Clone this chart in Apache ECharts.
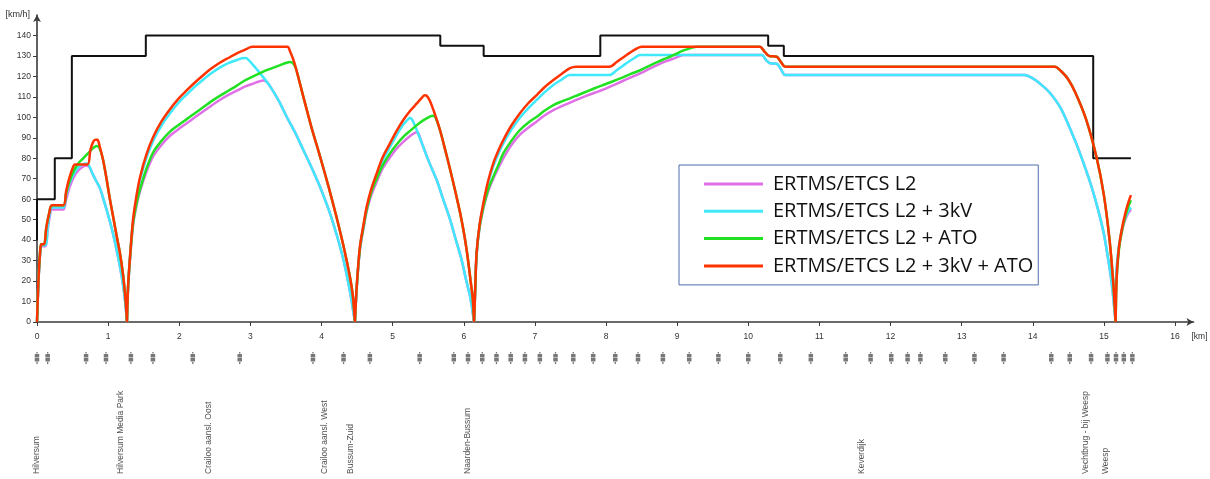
<!DOCTYPE html>
<html>
<head>
<meta charset="utf-8">
<script src="https://cdn.jsdelivr.net/npm/echarts@6/dist/echarts.min.js"></script>
<style>
  html, body { margin: 0; padding: 0; background: #fff; }
  #chart { width: 1210px; height: 479px; }
</style>
</head>
<body>
<div id="chart"></div>
<script>
// ---- axis ticks ----
const kmTicks = [0, 1, 2, 3, 4, 5, 6, 7, 8, 9, 10, 11, 12, 13, 14, 15, 16];
const speedTicks = [0, 10, 20, 30, 40, 50, 60, 70, 80, 90, 100, 110, 120, 130, 140];

// ---- legend entries ----
const seriesNames = ['ERTMS/ETCS L2', 'ERTMS/ETCS L2 + 3kV', 'ERTMS/ETCS L2 + ATO', 'ERTMS/ETCS L2 + 3kV + ATO'];
const seriesColors = ['#e070e6', '#3fe9fb', '#22e022', '#ff3300'];

// ---- permitted line speed [km, km/h] ----
const speedLimit = [
  [0, 40], [0, 60], [0.25, 60], [0.25, 80], [0.49, 80], [0.49, 130], [1.53, 130], [1.53, 140],
  [5.67, 140], [5.67, 135], [6.28, 135], [6.28, 130], [7.92, 130], [7.92, 140], [10.28, 140],
  [10.28, 135], [10.5, 135], [10.5, 130], [14.85, 130], [14.85, 80], [15.38, 80]
];

// ---- speed profiles, one list per run between stops [km, km/h] ----
const speedL2 = [
  [[0, 0], [0.02, 19], [0.045, 33.5], [0.065, 37], [0.12, 37], [0.15, 45], [0.18, 51.5], [0.21, 55], [0.37, 55], [0.41, 60], [0.46, 66], [0.52, 71], [0.58, 74], [0.64, 75.8], [0.70, 76.5], [0.74, 75.5], [0.78, 72.5], [0.83, 69], [0.886, 65.3], [0.93, 60.5], [0.98, 54.7], [1.03, 48.5], [1.073, 42.5], [1.12, 35], [1.167, 27], [1.21, 18], [1.237, 10.7], [1.265, 0]],
  [[1.265, 0], [1.28, 16], [1.31, 31.5], [1.35, 47], [1.40, 57], [1.45, 64], [1.54, 73.5], [1.635, 81], [1.75, 86.5], [1.87, 91], [2.0, 94.5], [2.10, 97], [2.22, 100], [2.34, 103], [2.45, 105.7], [2.57, 108.5], [2.69, 111], [2.81, 113], [2.92, 115], [3.04, 116.5], [3.12, 117.5], [3.18, 118], [3.23, 117.3], [3.28, 115], [3.40, 108], [3.51, 100.3], [3.63, 92.5], [3.745, 84], [3.86, 75.5], [3.98, 66], [4.10, 55], [4.21, 43], [4.29, 33], [4.35, 23.8], [4.41, 13], [4.45, 4.4], [4.47, 0]],
  [[4.47, 0], [4.495, 16.5], [4.54, 35], [4.59, 45.5], [4.635, 54], [4.70, 62], [4.776, 68.5], [4.86, 75], [4.963, 80.5], [5.05, 84.5], [5.15, 88], [5.25, 91], [5.32, 92.5], [5.35, 92.7], [5.38, 90.5], [5.43, 85.6], [5.52, 77.5], [5.62, 69.4], [5.71, 60], [5.81, 49.8], [5.89, 40], [5.97, 30.3], [6.03, 21], [6.09, 12.4], [6.12, 6], [6.145, 0]],
  [[6.145, 0], [6.16, 14.5], [6.18, 32.5], [6.22, 45.5], [6.275, 55.5], [6.34, 63.5], [6.415, 70], [6.49, 75.5], [6.556, 80], [6.67, 86.5], [6.79, 91.5], [6.91, 95], [7.026, 98], [7.14, 101], [7.26, 103.5], [7.38, 105.5], [7.494, 107.2], [7.60, 108.8], [7.72, 110.5], [7.84, 112], [7.96, 113.5], [8.09, 115.5], [8.22, 117.5], [8.35, 119.5], [8.48, 121.5], [8.60, 123.5], [8.72, 125.5], [8.84, 127.3], [8.96, 128.8], [9.09, 130.4], [10.19, 130.4], [10.25, 128], [10.31, 126.4], [10.40, 126.2], [10.46, 123.5], [10.52, 120.7], [13.89, 120.7], [14.0, 119], [14.1, 116.5], [14.24, 112], [14.40, 104], [14.59, 89], [14.70, 79], [14.80, 69], [14.87, 61], [14.94, 52], [15.0, 43], [15.05, 33], [15.09, 24], [15.12, 16], [15.165, 0]],
  [[15.165, 0], [15.17, 19], [15.20, 33], [15.24, 42], [15.29, 49], [15.34, 53], [15.38, 55]]
];

const speedL2_3kV = [
  [[0, 0], [0.02, 19], [0.045, 34], [0.065, 37.5], [0.12, 37.5], [0.15, 46], [0.18, 53], [0.205, 56], [0.37, 56], [0.41, 62], [0.46, 68], [0.52, 72.5], [0.58, 75.5], [0.64, 77], [0.70, 77.5], [0.73, 76.5], [0.78, 72.5], [0.83, 69], [0.886, 65.3], [0.93, 60.5], [0.98, 54.7], [1.03, 48.5], [1.073, 42.5], [1.12, 35], [1.167, 27], [1.21, 18], [1.237, 10.7], [1.265, 0]],
  [[1.265, 0], [1.28, 16.5], [1.31, 32.5], [1.35, 49], [1.40, 60.5], [1.45, 69.5], [1.54, 80.3], [1.635, 88.7], [1.75, 96], [1.87, 102], [2.0, 107.5], [2.10, 111], [2.22, 115], [2.34, 118.5], [2.45, 121.5], [2.57, 124.3], [2.69, 126.5], [2.81, 128], [2.88, 128.9], [2.94, 129], [2.98, 127.8], [3.04, 125.5], [3.16, 120.5], [3.28, 115], [3.40, 108], [3.51, 100.3], [3.63, 92.5], [3.745, 84], [3.86, 75.5], [3.98, 66], [4.10, 55], [4.21, 43], [4.29, 33], [4.35, 23.8], [4.41, 13], [4.45, 4.4], [4.47, 0]],
  [[4.47, 0], [4.495, 16.8], [4.54, 36], [4.59, 46.5], [4.635, 55], [4.70, 64], [4.776, 71], [4.86, 78.8], [4.963, 85.5], [5.05, 91], [5.15, 96.5], [5.21, 98.8], [5.245, 99.8], [5.27, 99], [5.29, 97.8], [5.36, 92], [5.43, 85.6], [5.52, 77.5], [5.62, 69.4], [5.71, 60], [5.81, 49.8], [5.89, 40], [5.97, 30.3], [6.03, 21], [6.09, 12.4], [6.12, 6], [6.145, 0]],
  [[6.145, 0], [6.16, 14.8], [6.18, 33], [6.22, 46.5], [6.275, 57], [6.34, 67.5], [6.415, 76], [6.49, 82.5], [6.556, 87.3], [6.67, 94], [6.79, 99.8], [6.91, 104.5], [7.026, 108.5], [7.14, 112.3], [7.26, 115.8], [7.38, 118.5], [7.45, 120.2], [7.49, 120.7], [8.05, 120.7], [8.15, 123], [8.27, 126], [8.40, 129], [8.48, 130.4], [10.19, 130.4], [10.25, 128], [10.31, 126.4], [10.40, 126.2], [10.46, 123.5], [10.52, 120.7], [13.89, 120.7], [14.0, 119], [14.1, 116.5], [14.24, 112], [14.40, 104], [14.59, 89], [14.70, 79], [14.80, 69], [14.87, 61], [14.94, 52], [15.0, 43], [15.05, 33], [15.09, 24], [15.12, 16], [15.165, 0]],
  [[15.165, 0], [15.17, 20], [15.20, 34], [15.24, 43], [15.29, 50], [15.34, 54], [15.38, 56]]
];

const speedL2_ATO = [
  [[0, 0], [0.02, 20], [0.045, 35], [0.06, 38], [0.10, 38], [0.13, 46], [0.17, 53], [0.21, 57], [0.37, 57], [0.41, 63], [0.46, 69], [0.52, 74], [0.58, 77.5], [0.65, 80], [0.72, 82.5], [0.79, 85], [0.84, 86], [0.87, 85.5], [0.90, 83], [0.93, 79], [0.98, 69.5], [1.02, 61], [1.07, 51.5], [1.12, 42], [1.167, 33.5], [1.21, 23], [1.237, 14], [1.255, 6], [1.265, 0]],
  [[1.265, 0], [1.28, 16.5], [1.31, 32.5], [1.35, 48], [1.40, 58], [1.45, 65], [1.54, 75], [1.635, 83], [1.75, 88.5], [1.87, 93], [2.0, 96.5], [2.10, 99], [2.22, 102], [2.34, 105], [2.45, 107.8], [2.57, 110.5], [2.69, 113], [2.81, 115.5], [2.92, 118], [3.04, 120], [3.16, 122], [3.28, 123.7], [3.40, 125.3], [3.51, 126.7], [3.56, 127], [3.60, 126.4], [3.64, 123.9], [3.745, 110], [3.86, 95], [3.98, 80.8], [4.10, 66], [4.21, 51.4], [4.31, 37], [4.40, 22], [4.44, 13], [4.47, 0]],
  [[4.47, 0], [4.495, 17], [4.54, 36], [4.59, 46.5], [4.635, 55], [4.70, 63.5], [4.776, 70], [4.86, 76.5], [4.963, 82.4], [5.05, 86.5], [5.15, 90.5], [5.25, 93.5], [5.34, 96.2], [5.43, 98.5], [5.53, 100.5], [5.57, 100.8], [5.60, 100], [5.63, 97.5], [5.666, 93.8], [5.74, 84], [5.81, 74.3], [5.88, 64], [5.95, 53.1], [6.01, 42], [6.06, 30.3], [6.10, 19], [6.125, 12], [6.145, 0]],
  [[6.145, 0], [6.16, 15], [6.18, 33], [6.22, 46], [6.275, 56], [6.34, 64.5], [6.415, 71], [6.49, 77], [6.556, 82.4], [6.67, 88.5], [6.79, 93.8], [6.91, 97.5], [7.026, 100.3], [7.14, 103.3], [7.26, 106], [7.38, 107.8], [7.494, 109.3], [7.60, 110.8], [7.72, 112.5], [7.84, 114.2], [7.96, 115.8], [8.09, 117.5], [8.22, 119.3], [8.35, 121.2], [8.48, 123], [8.60, 125], [8.72, 127], [8.82, 128.5], [8.90, 129.6], [9.00, 131.3], [9.10, 132.8], [9.18, 133.7], [9.275, 134.5], [10.165, 134.5], [10.22, 132.5], [10.29, 130], [10.40, 129.6], [10.46, 127], [10.52, 124.7], [14.31, 124.7], [14.40, 122.5], [14.5, 118.5], [14.6, 112], [14.75, 99], [14.9, 80], [15.0, 62], [15.08, 40], [15.13, 20], [15.165, 0]],
  [[15.165, 0], [15.18, 21], [15.21, 35], [15.25, 44], [15.30, 51.5], [15.34, 56], [15.38, 59.5]]
];

const speedL2_3kV_ATO = [
  [[0, 0], [0.02, 20], [0.045, 35], [0.06, 38], [0.10, 38], [0.13, 46], [0.17, 53], [0.21, 57], [0.37, 57], [0.41, 64], [0.46, 71], [0.51, 76], [0.53, 77], [0.71, 77], [0.75, 84], [0.79, 88], [0.82, 89], [0.85, 89], [0.88, 86], [0.93, 79], [0.98, 69.5], [1.02, 61], [1.07, 51.5], [1.12, 42], [1.167, 33.5], [1.21, 23], [1.237, 14], [1.255, 6], [1.265, 0]],
  [[1.265, 0], [1.28, 17], [1.31, 33], [1.35, 50], [1.40, 62], [1.45, 71], [1.54, 82], [1.635, 90.5], [1.75, 98], [1.87, 104], [2.0, 109.5], [2.10, 113], [2.22, 117], [2.34, 120.7], [2.45, 123.8], [2.57, 126.7], [2.69, 129], [2.81, 131.3], [2.92, 133], [3.0, 134.3], [3.03, 134.5], [3.52, 134.5], [3.56, 132], [3.62, 126.5], [3.745, 110], [3.86, 95], [3.98, 80.8], [4.10, 66], [4.21, 51.4], [4.31, 37], [4.40, 22], [4.44, 13], [4.47, 0]],
  [[4.47, 0], [4.495, 17.3], [4.54, 36.8], [4.59, 47.5], [4.635, 56.3], [4.70, 65], [4.776, 72.6], [4.86, 80.5], [4.963, 87.3], [5.05, 93], [5.15, 98.7], [5.25, 103.3], [5.34, 106.8], [5.41, 109.5], [5.45, 110.8], [5.48, 110.5], [5.525, 108], [5.60, 101], [5.666, 93.8], [5.74, 84], [5.81, 74.3], [5.88, 64], [5.95, 53.1], [6.01, 42], [6.06, 30.3], [6.10, 19], [6.125, 12], [6.145, 0]],
  [[6.145, 0], [6.16, 15], [6.18, 33.5], [6.22, 47], [6.275, 58], [6.34, 68.5], [6.415, 77.5], [6.49, 84], [6.556, 88.9], [6.67, 96], [6.79, 102], [6.91, 107], [7.026, 110.9], [7.14, 114.8], [7.26, 118.2], [7.38, 121.3], [7.494, 124], [7.58, 124.7], [8.05, 124.7], [8.15, 127], [8.27, 130], [8.40, 133], [8.50, 134.5], [10.165, 134.5], [10.22, 132.5], [10.29, 130], [10.40, 129.6], [10.46, 127], [10.52, 124.7], [14.31, 124.7], [14.40, 122.5], [14.5, 118.5], [14.6, 112], [14.75, 99], [14.9, 80], [15.0, 62], [15.08, 40], [15.13, 20], [15.165, 0]],
  [[15.165, 0], [15.18, 22], [15.21, 36], [15.25, 45], [15.30, 53], [15.34, 58], [15.38, 62]]
];

// ---- trackside signal positions [km] ----
const signalKm = [0, 0.15, 0.69, 0.97, 1.32, 1.63, 2.19, 2.85, 3.88, 4.31, 4.68, 5.38, 5.86, 6.06, 6.26, 6.46,
  6.66, 6.86, 7.07, 7.29, 7.54, 7.82, 8.13, 8.45, 8.80, 9.17, 9.58, 10.00, 10.45, 10.88, 11.37, 11.72,
  12.01, 12.24, 12.42, 12.77, 13.18, 13.59, 14.26, 14.52, 14.82, 15.05, 15.17, 15.28, 15.40];

// ---- stations and junctions ----
const stationNames = ['Hilversum', 'Hilversum Media Park', 'Crailoo aansl. Oost', 'Crailoo aansl. West',
  'Bussum-Zuid', 'Naarden-Bussum', 'Keverdijk', 'Vechtbrug - bij Weesp', 'Weesp'];
const stationKm = [0.0, 1.17, 2.41, 4.05, 4.41, 6.06, 11.6, 14.74, 15.02];

// joins the runs into one polyline, with a break at every stop
function joinRuns(runs) {
  const out = [];
  runs.forEach((run, i) => {
    if (i) out.push(['-', '-']);
    run.forEach(p => out.push(p));
  });
  return out;
}

const AXIS_COLOR = '#3a3a3a';
const LABEL_COLOR = '#333';
const KM_MAX = 16.26;

function profileSeries(idx, runs) {
  return {
    name: seriesNames[idx],
    type: 'line',
    data: joinRuns(runs),
    showSymbol: false,
    symbol: 'none',
    smooth: 0.3,
    connectNulls: false,
    xAxisIndex: 0,
    yAxisIndex: 0,
    color: seriesColors[idx],
    lineStyle: { color: seriesColors[idx], width: 2.5 },
    itemStyle: { color: seriesColors[idx] },
    z: 3 + idx,
    silent: true
  };
}

const chart = echarts.init(document.getElementById('chart'));
chart.setOption({
  animation: false,
  backgroundColor: '#fff',
  textStyle: { fontFamily: '"Liberation Sans", Arial, sans-serif' },
  grid: [
    { left: 37, right: 16.5, top: 15, bottom: 157, outerBoundsMode: 'none', containLabel: false },
    { left: 37, right: 16.5, top: 352, height: 12, outerBoundsMode: 'none', containLabel: false },
    { left: 37, right: 16.5, top: 380, bottom: 5, outerBoundsMode: 'none', containLabel: false }
  ],
  xAxis: [
    {
      type: 'value', gridIndex: 0, min: 0, max: KM_MAX, interval: 1,
      name: '[km]', nameLocation: 'end', nameGap: -2,
      nameTextStyle: { fontSize: 8.5, color: LABEL_COLOR, align: 'left', verticalAlign: 'top', padding: [10, 0, 0, 0] },
      axisLine: { show: true, onZero: false, symbol: ['none', 'arrow'], symbolSize: [6, 7], lineStyle: { color: AXIS_COLOR, width: 1.6 } },
      axisTick: { show: true, length: 4, customValues: kmTicks, lineStyle: { color: AXIS_COLOR, width: 1 } },
      axisLabel: { show: true, customValues: kmTicks, margin: 10, fontSize: 8.5, color: LABEL_COLOR },
      splitLine: { show: false }
    },
    { type: 'value', gridIndex: 1, min: 0, max: KM_MAX, show: false },
    { type: 'value', gridIndex: 2, min: 0, max: KM_MAX, show: false }
  ],
  yAxis: [
    {
      type: 'value', gridIndex: 0, min: 0, max: 150, interval: 10,
      name: '[km/h]', nameLocation: 'end', nameGap: 0,
      nameTextStyle: { fontSize: 9, color: LABEL_COLOR, align: 'right', verticalAlign: 'middle', padding: [0, 7, 0, 0] },
      axisLine: { show: true, symbol: ['none', 'arrow'], symbolSize: [6, 7], lineStyle: { color: AXIS_COLOR, width: 1.6 } },
      axisTick: { show: true, length: 4, customValues: speedTicks, lineStyle: { color: AXIS_COLOR, width: 1 } },
      axisLabel: {
        show: true, customValues: speedTicks, margin: 6, fontSize: 8.5, color: LABEL_COLOR,
        formatter: v => (v > 140 ? '' : String(v))
      },
      splitLine: { show: false }
    },
    { type: 'value', gridIndex: 1, min: 0, max: 1, show: false },
    { type: 'value', gridIndex: 2, min: 0, max: 1, show: false }
  ],
  legend: {
    data: seriesNames,
    orient: 'vertical',
    left: 679,
    top: 165,
    icon: 'rect',
    itemWidth: 59,
    itemHeight: 3,
    itemGap: 5.3,
    padding: [8, 5, 8, 25],
    borderColor: '#4f6cab',
    borderWidth: 1,
    backgroundColor: '#fff',
    selectedMode: false,
    textStyle: { fontFamily: '"Open Sans", sans-serif', fontSize: 20, lineHeight: 22, color: '#111', padding: [0, 0, 0, 5] }
  },
  series: [
    {
      name: 'Snelheidslimiet',
      type: 'line',
      data: speedLimit,
      showSymbol: false,
      symbol: 'none',
      xAxisIndex: 0,
      yAxisIndex: 0,
      lineStyle: { color: '#111', width: 2 },
      itemStyle: { color: '#111' },
      z: 2,
      silent: true
    },
    profileSeries(0, speedL2),
    profileSeries(1, speedL2_3kV),
    profileSeries(2, speedL2_ATO),
    profileSeries(3, speedL2_3kV_ATO),
    {
      name: 'Seinen',
      type: 'scatter',
      xAxisIndex: 1,
      yAxisIndex: 1,
      data: signalKm.map(k => [k, 0.5]),
      symbol: 'path://M1.5,0h1v1.6h-1z M0.3,2.1h3.4v3.4h-3.4z M0.3,6.1h3.4v3.4h-3.4z M1.5,10.1h1v1.9h-1z',
      symbolSize: [4.5, 12],
      itemStyle: { color: '#555' },
      silent: true
    },
    {
      name: 'Dienstregelpunten',
      type: 'scatter',
      xAxisIndex: 2,
      yAxisIndex: 2,
      clip: false,
      data: stationKm.map((k, i) => ({ value: [k, 0], name: stationNames[i] })),
      symbolSize: 1,
      itemStyle: { color: 'rgba(0,0,0,0)' },
      label: {
        show: true,
        formatter: '{b}',
        position: 'inside',
        rotate: 90,
        align: 'left',
        verticalAlign: 'middle',
        fontSize: 8.5,
        color: '#222'
      },
      labelLayout: { hideOverlap: false },
      silent: true
    }
  ]
});
</script>
</body>
</html>
